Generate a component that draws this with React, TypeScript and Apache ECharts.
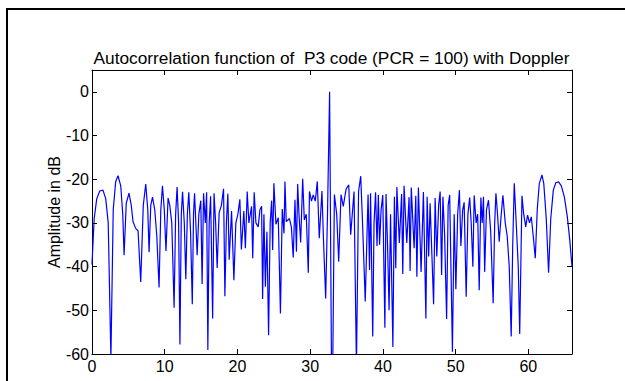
import React, { useEffect, useRef } from "react";
import * as echarts from "echarts";

// Time (µs) and amplitude (dB) samples
const times = [
  0, 0.30, 0.65, 1.06, 1.51, 1.89, 2.23, 2.60, 2.92, 3.26,
  3.58, 3.95, 4.23, 4.41, 4.71, 5.09, 5.40, 5.64, 6.02, 6.33,
  6.70, 7.05, 7.39, 7.67, 7.85, 8.08, 8.32, 8.63, 8.91, 9.22,
  9.46, 9.69, 9.94, 10.17, 10.46, 10.70, 10.97, 11.29, 11.50, 11.70,
  11.91, 12.09, 12.28, 12.45, 12.69, 12.90, 13.11, 13.31, 13.55, 13.79,
  13.96, 14.10, 14.28, 14.46, 14.69, 14.96, 15.14, 15.34, 15.58, 15.76,
  15.93, 16.11, 16.31, 16.59, 16.78, 17.00, 17.21, 17.48, 17.79, 18.09,
  18.27, 18.48, 18.68, 18.86, 19.19, 19.51, 19.78, 20.06, 20.33, 20.54,
  20.88, 21.09, 21.34, 21.57, 21.94, 22.10, 22.30, 22.54, 22.85, 23.09,
  23.32, 23.46, 23.64, 23.84, 24.05, 24.28, 24.50, 24.70, 24.84, 25.01,
  25.29, 25.61, 25.91, 26.16, 26.40, 26.53, 26.71, 27.15, 27.42, 27.67,
  27.91, 28.11, 28.28, 28.46, 28.69, 28.97, 29.19, 29.46, 29.74, 29.90,
  30.18, 30.42, 30.70, 30.98, 31.25, 31.62, 31.83, 32.13, 32.38, 32.67,
  33.00, 33.33, 33.65, 33.92, 34.24, 34.55, 34.93, 35.30, 35.57, 36.03,
  36.36, 36.65, 36.95, 37.20, 37.57, 37.96, 38.16, 38.30, 38.60, 38.78,
  38.99, 39.19, 39.37, 39.54, 39.75, 39.98, 40.27, 40.43, 40.64, 40.85,
  41.05, 41.37, 41.58, 41.77, 41.92, 42.26, 42.57, 42.73, 42.91, 43.28,
  43.60, 43.74, 43.90, 44.29, 44.52, 44.67, 44.88, 45.25, 45.57, 45.91,
  46.08, 46.29, 46.49, 46.97, 47.18, 47.41, 47.66, 47.87, 48.07, 48.25,
  48.49, 48.76, 48.97, 49.18, 49.56, 49.80, 50.03, 50.28, 50.52, 50.72,
  50.97, 51.17, 51.45, 51.69, 51.93, 52.14, 52.37, 52.55, 52.82, 53.03,
  53.24, 53.47, 53.65, 53.83, 53.99, 54.24, 54.52, 54.82, 55.16, 55.37,
  55.54, 55.76, 55.99, 56.27, 56.50, 56.82, 57.09, 57.37, 57.64, 57.85,
  58.06, 58.33, 58.61, 58.81, 59.12, 59.36, 59.64, 59.89, 60.16, 60.40,
  60.67, 60.95, 61.22, 61.50, 61.87, 62.12, 62.46, 62.78, 63.08, 63.43,
  63.77, 64.15, 64.53, 64.94, 65.35, 65.70, 66.00,
];

const amplitudes = [
  -39.5, -29, -24.5, -22.7, -22.5, -24.5, -30, -61, -27, -20.5,
  -19.2, -21.5, -28, -37.4, -25.5, -23.2, -26, -29.7, -31.3, -31.8,
  -43.5, -26, -21.1, -27, -36.7, -26, -24.1, -27, -33, -44.8,
  -27, -21.5, -27, -36.4, -24.3, -26, -30, -49.4, -28, -21.8,
  -30, -57.8, -28, -22.9, -30, -42.9, -28, -23, -32, -48.6,
  -28, -23.2, -30, -37.4, -28, -24.9, -44, -23.2, -30, -23,
  -59.1, -30, -23.9, -51.9, -23.2, -30, -40.3, -27.7, -26, -22.2,
  -46.8, -30, -23.3, -38.4, -27.3, -43.1, -30, -28, -24.6, -36.1,
  -27.3, -35.8, -22.8, -30, -26.2, -38.1, -23, -30, -30.9, -27,
  -26.2, -47.4, -28, -44.6, -32, -55.7, -30, -24.9, -36.2, -20.9,
  -30.3, -28.8, -50.7, -26.8, -32.4, -20.5, -29.7, -29, -31, -37.9,
  -24.7, -36.6, -21.1, -28, -34.5, -19.9, -29.3, -28, -41.4, -22.8,
  -25, -23.6, -25, -20.5, -33.5, -22.7, -33.9, -47.3, -28, 0,
  -80, -23.5, -28.1, -38.9, -23.5, -26.2, -22.3, -21.3, -32.7, -22.8,
  -63, -22.8, -19.3, -30, -48, -23.5, -40.8, -23.2, -56, -30,
  -23, -35.3, -23.6, -35, -27, -23.6, -54, -23.4, -35.3, -50,
  -28, -58.4, -24, -40.4, -21.8, -34.6, -23.4, -41.7, -21.5, -34.6,
  -24.1, -41, -21.9, -35.8, -23.8, -42.3, -21.9, -41.2, -22.9, -51.9,
  -24, -37.7, -25.5, -48.6, -24.3, -37.7, -26, -22.8, -41.9, -24,
  -33, -52, -26, -23.6, -59.5, -28, -45.2, -28, -22.5, -35.3,
  -27, -25.3, -46.9, -28, -24.2, -30, -40, -23.7, -30, -28,
  -45.4, -24.2, -30, -24, -41.2, -27, -24.8, -32, -48.4, -30,
  -23.2, -28, -34.3, -28, -23.7, -30, -33, -40, -56, -35,
  -20.9, -30, -40, -55.4, -23.8, -28, -30.9, -28.2, -30, -28.6,
  -33, -38.1, -27, -21, -19, -21, -29, -41.4, -29, -22.5,
  -20.8, -20.6, -21.5, -24, -28.5, -34, -40,
];

const xLimits = [0, 66];
const yLimits = [-60, 5];
const tickStep = 10;

const titleText = "Autocorrelation function of  P3 code (PCR = 100) with Doppler";
const xName = "time in µs";
const yName = "Amplitude in dB";

export default function App() {
  const ref = useRef<HTMLDivElement>(null);

  useEffect(() => {
    if (!ref.current) return;
    const chart = echarts.init(ref.current, null, { renderer: "svg" });
    const font = '"Liberation Sans", Arial, Helvetica, sans-serif';
    const data = times.map((t, i) => [t, amplitudes[i]]);
    const fmt = (v: number) => (Math.abs(v % tickStep) < 1e-9 ? String(v) : "");

    const lineStyle = { color: "#000", width: 1 };
    const makeAxis = (position: string, showLabel: boolean, isX: boolean) => ({
      type: "value",
      min: isX ? xLimits[0] : yLimits[0],
      max: isX ? xLimits[1] : yLimits[1],
      interval: tickStep,
      position,
      axisLine: { show: true, onZero: false, lineStyle },
      axisTick: { show: true, inside: true, length: 5, lineStyle },
      axisLabel: {
        show: showLabel,
        margin: isX ? 4 : 3,
        color: "#000",
        fontSize: 16,
        fontFamily: font,
        formatter: fmt,
      },
      splitLine: { show: false },
    });

    chart.setOption({
      animation: false,
      backgroundColor: "#fff",
      grid: { left: 92, top: 70, width: 480, height: 284 },
      xAxis: [makeAxis("bottom", true, true), makeAxis("top", false, true)],
      yAxis: [makeAxis("left", true, false), makeAxis("right", false, false)],
      series: [
        {
          type: "line",
          data,
          xAxisIndex: 0,
          yAxisIndex: 0,
          showSymbol: false,
          symbol: "none",
          clip: true,
          silent: true,
          lineStyle: { color: "#0000ff", width: 1.2 },
        },
      ],
      graphic: [
        {
          type: "polyline",
          shape: { points: [[7, 381], [7, 9], [625, 9]] },
          style: { stroke: "#000", lineWidth: 2, fill: null },
        },
        {
          type: "text",
          x: 331.5,
          y: 58,
          style: {
            text: titleText,
            fill: "#000",
            font: `17.3px ${font}`,
            align: "center",
            verticalAlign: "middle",
          },
        },
        {
          type: "text",
          x: 332,
          y: 387,
          style: {
            text: xName,
            fill: "#000",
            font: `16px ${font}`,
            align: "center",
            verticalAlign: "middle",
          },
        },
        {
          type: "text",
          x: 54.5,
          y: 212,
          rotation: Math.PI / 2,
          style: {
            text: yName,
            fill: "#000",
            font: `16px ${font}`,
            align: "center",
            verticalAlign: "middle",
          },
        },
      ],
    });

    return () => chart.dispose();
  }, []);

  return (
    <div
      ref={ref}
      style={{ position: "fixed", left: 0, top: 0, width: 625, height: 381, background: "#fff" }}
    />
  );
}
